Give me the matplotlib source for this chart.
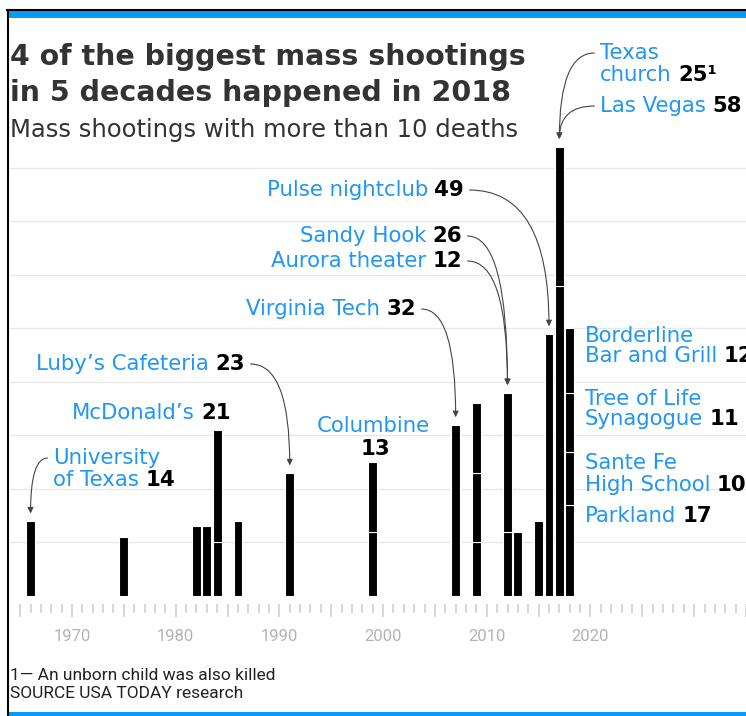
import matplotlib
matplotlib.use('Agg')
import matplotlib.pyplot as plt
from matplotlib.patches import Rectangle
from matplotlib.lines import Line2D
from matplotlib.text import OffsetFrom
from matplotlib.ticker import MultipleLocator, FuncFormatter

# one entry per shooting, stacked by year from bottom to top
years = [1966, 1975, 1982, 1983, 1984, 1984, 1986, 1991, 1999, 1999, 2007,
         2009, 2009, 2009, 2012, 2012, 2013, 2015, 2016, 2017, 2017,
         2018, 2018, 2018, 2018]
deaths = [14, 11, 13, 13, 10, 21, 14, 23, 12, 13, 32,
          10, 13, 13, 12, 26, 12, 14, 49, 58, 26,
          17, 10, 11, 12]
grid_levels = [10, 20, 30, 40, 50, 60, 70, 80]
labelled_decades = [1970, 1980, 1990, 2000, 2010, 2020]

BLUE = '#2196f3'
BAND = '#0a9af5'
W, H = 746, 716
LS = 15.3

fig = plt.figure(figsize=(W / 100, H / 100), dpi=100)


def fx(x):
    return x / W


def fy(y):
    return 1 - y / H


ax = fig.add_axes([fx(10), fy(596), fx(746) - fx(10), fy(140) - fy(596)])
ax.set_xlim(1964.02, 2035)
ax.set_ylim(0, 85.23)

tops = {}
for yr, d in zip(years, deaths):
    b = tops.get(yr, 0)
    ax.bar(yr, d, bottom=b, width=0.85, color='black', edgecolor='white', linewidth=0.8, zorder=3)
    tops[yr] = b + d

for g in grid_levels:
    ax.axhline(g, color='#e8e8e8', lw=1, zorder=0)

for s in ax.spines.values():
    s.set_visible(False)
ax.spines['bottom'].set_position(('outward', 6))
ax.yaxis.set_visible(False)
ax.xaxis.set_major_locator(MultipleLocator(5))
ax.xaxis.set_minor_locator(MultipleLocator(1))
ax.xaxis.set_major_formatter(FuncFormatter(
    lambda v, p: str(int(round(v))) if int(round(v)) in labelled_decades else ''))
ax.tick_params(axis='x', which='major', length=9, width=1.1, color='#cccccc', pad=8.5,
               labelsize=12, labelcolor='#b3b3b3', labelfontfamily='Roboto')
ax.tick_params(axis='x', which='minor', length=6.5, width=1.1, color='#cccccc')


def name_num(x, y, name, num, ha='left'):
    kw = dict(va='center', fontsize=LS, annotation_clip=False)
    if ha == 'left':
        a = fig.text(fx(x), fy(y), name, ha='left', va='center', color=BLUE, fontsize=LS)
        b = ax.annotate(num, xy=(1, 0.5), xycoords=a, xytext=(4.5, 0), textcoords='offset points',
                        ha='left', fontweight='bold', color='black', **kw)
    else:
        b = fig.text(fx(x), fy(y), num, ha='right', va='center', color='black', fontsize=LS,
                     fontweight='bold')
        a = ax.annotate(name, xy=(0, 0.5), xycoords=b, xytext=(-4.5, 0), textcoords='offset points',
                        ha='right', color=BLUE, **kw)
    return a, b


def plain(x, y, s, ha='left', **kw):
    return fig.text(fx(x), fy(y), s, ha=ha, va='center', color=BLUE, fontsize=LS, **kw)


def arrow(src, side, year):
    ref = (1, 0.5) if side == 'right' else (0, 0.5)
    off = (4, 0) if side == 'right' else (-4, 0)
    ax.annotate('', xy=(year, tops[year] + 1.4), xycoords='data',
                xytext=off, textcoords=OffsetFrom(src, ref, unit='points'),
                arrowprops=dict(arrowstyle='-|>,head_length=0.35,head_width=0.17', color='#444444',
                                lw=0.8, shrinkA=0, shrinkB=0,
                                connectionstyle='angle3,angleA=0,angleB=90'),
                annotation_clip=False)


# labels
t = plain(600, 53, 'Texas')
name_num(600, 75, 'church', '25\u00b9')
arrow(t, 'left', 2017)
lv, _ = name_num(600, 106, 'Las Vegas', '58')
arrow(lv, 'left', 2017)

_, n = name_num(464, 190, 'Pulse nightclub', '49', ha='right')
arrow(n, 'right', 2016)
_, n = name_num(462, 236, 'Sandy Hook', '26', ha='right')
arrow(n, 'right', 2012)
_, n = name_num(462, 261, 'Aurora theater', '12', ha='right')
arrow(n, 'right', 2012)
_, n = name_num(416, 309, 'Virginia Tech', '32', ha='right')
arrow(n, 'right', 2007)
_, n = name_num(245, 364, 'Luby\u2019s Cafeteria', '23', ha='right')
arrow(n, 'right', 1991)
name_num(231, 413, 'McDonald\u2019s', '21', ha='right')

plain(373, 426, 'Columbine', ha='center')
fig.text(fx(375), fy(449), '13', ha='center', va='center', fontsize=LS, fontweight='bold', color='black')

u = plain(53, 458, 'University')
name_num(53, 480, 'of Texas', '14')
arrow(u, 'left', 1966)

# the 2018 labels run off the right edge, as in the original graphic
plain(585, 336, 'Borderline')
name_num(585, 356, 'Bar and Grill', '12')
plain(585, 399, 'Tree of Life')
name_num(585, 419, 'Synagogue', '11')
plain(585, 463, 'Sante Fe')
name_num(585, 485, 'High School', '10')
name_num(585, 516, 'Parkland', '17')

# titles and notes
fig.text(fx(10), fy(57), '4 of the biggest mass shootings', ha='left', va='center',
         fontsize=20.5, fontweight='bold', color='#333333')
fig.text(fx(10), fy(93), 'in 5 decades happened in 2018', ha='left', va='center',
         fontsize=20.5, fontweight='bold', color='#333333')
fig.text(fx(10), fy(130), 'Mass shootings with more than 10 deaths', ha='left', va='center',
         fontsize=17.5, color='#333333')
fig.text(fx(10), fy(676), '1\u2014 An unborn child was also killed', ha='left', va='center',
         fontsize=12.5, family='Roboto', color='#222222')
fig.text(fx(10), fy(693), 'SOURCE USA TODAY research', ha='left', va='center',
         fontsize=12.5, family='Roboto', color='#222222')

# frame
fig.add_artist(Rectangle((fx(8), fy(18)), 1, fy(11) - fy(18), transform=fig.transFigure,
                         color=BAND, lw=0))
fig.add_artist(Rectangle((fx(8), 0), 1, fy(712), transform=fig.transFigure, color=BAND, lw=0))
fig.add_artist(Line2D([fx(7), 1], [fy(9.5), fy(9.5)], transform=fig.transFigure, color='black', lw=1.5))
fig.add_artist(Line2D([fx(8), fx(8)], [0, fy(9.5)], transform=fig.transFigure, color='black', lw=1.5))

fig.savefig('out.png', dpi=100)
